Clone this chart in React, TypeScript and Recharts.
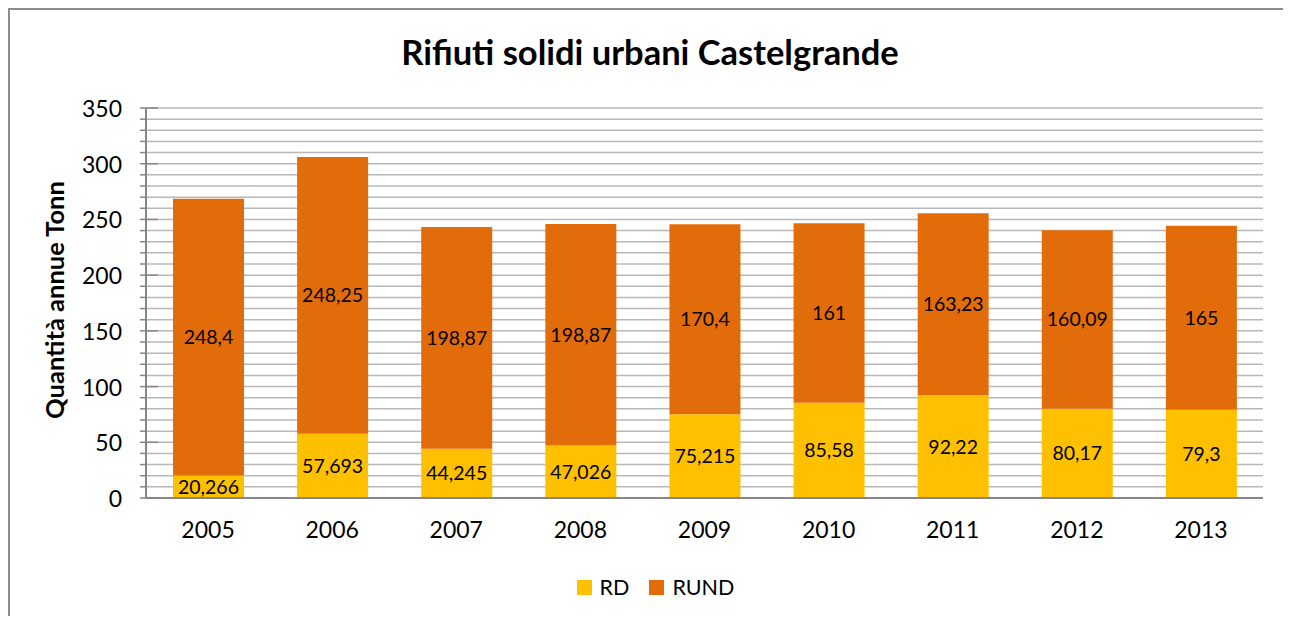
import { Bar, BarChart, CartesianGrid, LabelList, Legend, XAxis, YAxis } from "recharts";

const years = ["2005", "2006", "2007", "2008", "2009", "2010", "2011", "2012", "2013"];
const rd = [20.266, 57.693, 44.245, 47.026, 75.215, 85.58, 92.22, 80.17, 79.3];
const rund = [248.4, 248.25, 198.87, 198.87, 170.4, 161, 163.23, 160.09, 165];
const yTicks = Array.from({ length: 36 }, (_, i) => i * 10);

const data = years.map((year, i) => ({ year, RD: rd[i], RUND: rund[i] }));

const FONT = "Lato, 'Open Sans', sans-serif";
const RD_COLOR = "#FFC000";
const RUND_COLOR = "#E36C0A";
const AXIS = "#868686";
const GRID = "#b8b8b8";

function formatValue(value: number | string) {
  return String(value).replace(".", ",");
}

function YTick({ x, y, payload }: { x?: number; y?: number; payload?: { value: number } }) {
  if (x == null || y == null || !payload) return null;
  const major = payload.value % 50 === 0;
  return (
    <g>
      <line x1={x - 6} x2={major ? x + 12 : x} y1={y} y2={y} stroke={AXIS} strokeWidth={1.5} />
      {major && (
        <text x={x - 24} y={y} textAnchor="end" dominantBaseline="central" fontSize={23} fill="#000" fontFamily={FONT}>
          {payload.value}
        </text>
      )}
    </g>
  );
}

function LegendContent() {
  const items = [
    { name: "RD", color: RD_COLOR },
    { name: "RUND", color: RUND_COLOR },
  ];
  return (
    <div style={{ display: "flex", justifyContent: "center", gap: 20, paddingLeft: 10, fontFamily: FONT, fontSize: 21.5 }}>
      {items.map((item) => (
        <div key={item.name} style={{ display: "flex", alignItems: "center" }}>
          <span style={{ width: 15, height: 15, background: item.color, marginRight: 8 }} />
          <span style={{ color: "#000" }}>{item.name}</span>
        </div>
      ))}
    </div>
  );
}

export default function App() {
  return (
    <div
      style={{
        position: "relative",
        width: 1281,
        height: 606,
        overflow: "hidden",
        borderLeft: "2px solid #8c8c8c",
        borderTop: "2px solid #8c8c8c",
        background: "#fff",
        fontFamily: FONT,
      }}
    >
      <div
        style={{
          position: "absolute",
          left: 0,
          width: 1280,
          top: 21,
          textAlign: "center",
          fontWeight: 700,
          fontSize: 34.5,
          lineHeight: "41px",
          color: "#000",
        }}
      >
        Rifiuti solidi urbani Castelgrande
      </div>
      <div
        style={{
          position: "absolute",
          left: 44,
          top: 290,
          transform: "translate(-50%, -50%) rotate(-90deg)",
          whiteSpace: "nowrap",
          fontWeight: 700,
          fontSize: 25.5,
          color: "#000",
        }}
      >
        Quantità annue Tonn
      </div>
      <BarChart
        width={1281}
        height={614}
        data={data}
        margin={{ top: 98, right: 28, bottom: 8, left: 0 }}
        style={{ position: "absolute", left: 0, top: 0 }}
      >
        <CartesianGrid vertical={false} stroke={GRID} strokeWidth={1.5} />
        <XAxis
          dataKey="year"
          axisLine={{ stroke: AXIS, strokeWidth: 2 }}
          tickLine={false}
          tickSize={0}
          tickMargin={24}
          height={118}
          tick={{ fill: "#000", fontSize: 23, fontFamily: FONT }}
        />
        <YAxis
          domain={[0, 350]}
          ticks={yTicks}
          interval={0}
          width={136}
          axisLine={{ stroke: AXIS, strokeWidth: 2 }}
          tickLine={false}
          tickSize={0}
          tickMargin={0}
          tick={<YTick />}
        />
        <Legend
          verticalAlign="middle"
          layout="horizontal"
          align="center"
          wrapperStyle={{ top: 564, left: 0, width: 1281 }}
          content={<LegendContent />}
        />
        <Bar dataKey="RD" stackId="a" fill={RD_COLOR} barSize={71} isAnimationActive={false}>
          <LabelList dataKey="RD" position="center" formatter={formatValue} fill="#000" fontSize={19.5} fontFamily={FONT} />
        </Bar>
        <Bar dataKey="RUND" stackId="a" fill={RUND_COLOR} barSize={71} isAnimationActive={false}>
          <LabelList dataKey="RUND" position="center" formatter={formatValue} fill="#000" fontSize={19.5} fontFamily={FONT} />
        </Bar>
      </BarChart>
    </div>
  );
}
